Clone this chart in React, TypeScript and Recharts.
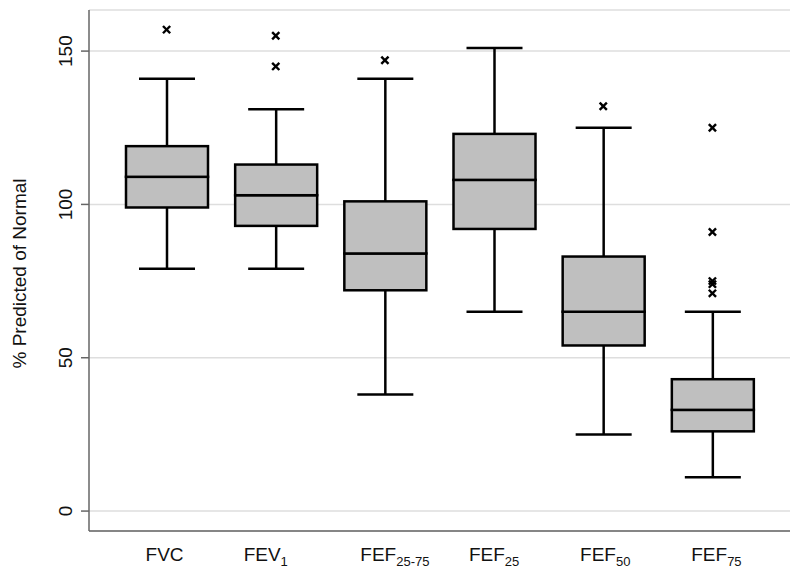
import { ComposedChart, Bar, Line, XAxis, YAxis, CartesianGrid } from "recharts";

const categories = ["FVC", "FEV1", "FEF25-75", "FEF25", "FEF50", "FEF75"];
const tickMain = ["FVC", "FEV", "FEF", "FEF", "FEF", "FEF"];
const tickSub = ["", "1", "25-75", "25", "50", "75"];

const mins = [79, 79, 38, 65, 25, 11];
const q1s = [99, 93, 72, 92, 54, 26];
const medians = [109, 103, 84, 108, 65, 33];
const q3s = [119, 113, 101, 123, 83, 43];
const maxs = [141, 131, 141, 151, 125, 65];
const outliers = [[157], [155, 145], [147], [], [132], [125, 91, 75, 74, 71]];

const yTicks = [0, 50, 100, 150];
const yDomain = [-6.5, 163.4];

const MAX_OUT = 5;

const data = categories.map((name, i) => {
  const row: Record<string, any> = {
    name,
    base: mins[i],
    lowW: q1s[i] - mins[i],
    lowBox: medians[i] - q1s[i],
    highBox: q3s[i] - medians[i],
    highW: maxs[i] - q3s[i],
  };
  for (let k = 0; k < MAX_OUT; k++) row[`out${k}`] = outliers[i][k] ?? null;
  return row;
});

const FONT = "'Liberation Sans', Arial, sans-serif";
const LINE_W = 2.5;
const CAP = 28;

// label centring as in the original figure
const LABEL_NUDGE: Record<string, number> = {
  FVC: -2,
  FEV1: -10,
  "FEF25-75": 10,
  FEF25: 0,
  FEF50: 2,
  FEF75: 4,
};

const Empty = () => <g />;

const LowWhisker = (props: any) => {
  const { x, y, width, height } = props;
  const cx = x + width / 2;
  return (
    <g stroke="#000" strokeWidth={LINE_W}>
      <line x1={cx} x2={cx} y1={y} y2={y + height} />
      <line x1={cx - CAP} x2={cx + CAP} y1={y + height} y2={y + height} />
    </g>
  );
};

const HighWhisker = (props: any) => {
  const { x, y, width, height } = props;
  const cx = x + width / 2;
  return (
    <g stroke="#000" strokeWidth={LINE_W}>
      <line x1={cx} x2={cx} y1={y} y2={y + height} />
      <line x1={cx - CAP} x2={cx + CAP} y1={y} y2={y} />
    </g>
  );
};

const BoxPart = (props: any) => {
  const { x, y, width, height } = props;
  return <rect x={x} y={y} width={width} height={height} fill="#bfbfbf" stroke="#000" strokeWidth={LINE_W} />;
};

const Cross = (props: any) => {
  const { cx, cy, value, index, dataKey } = props;
  const k = `${dataKey}-${index}`;
  if (value == null || cy == null || isNaN(cy)) return <g key={k} />;
  const s = 3.6;
  return (
    <g key={k} stroke="#000" strokeWidth={2.4}>
      <line x1={cx - s} y1={cy - s} x2={cx + s} y2={cy + s} />
      <line x1={cx - s} y1={cy + s} x2={cx + s} y2={cy - s} />
    </g>
  );
};

const YTick = (props: any) => {
  const { x, y, payload } = props;
  return (
    <text
      x={x}
      y={y}
      transform={`rotate(-90 ${x} ${y})`}
      textAnchor="middle"
      fontFamily={FONT}
      fontSize={19}
      fill="#111"
    >
      {payload.value}
    </text>
  );
};

const XTick = (props: any) => {
  const { x, y, payload } = props;
  const i = categories.indexOf(payload.value);
  const nudge = LABEL_NUDGE[payload.value] ?? 0;
  return (
    <text x={x + nudge} y={y + 30} textAnchor="middle" fontFamily={FONT} fontSize={19} fill="#111">
      <tspan>{tickMain[i]}</tspan>
      {tickSub[i] && (
        <tspan dy={5} fontSize={13}>
          {tickSub[i]}
        </tspan>
      )}
    </text>
  );
};

export default function App() {
  return (
    <div style={{ position: "absolute", left: 0, top: 0, width: 800, height: 574, background: "#fff" }}>
      <ComposedChart width={800} height={574} data={data} margin={{ top: 10, right: 10, bottom: 0, left: 0 }}>
        <CartesianGrid vertical={false} stroke="#dedede" strokeWidth={1.5} />
        <XAxis
          dataKey="name"
          height={43}
          padding={{ left: 23, right: 23 }}
          tickLine={false}
          tickSize={0}
          tickMargin={0}
          tick={<XTick />}
          axisLine={{ stroke: "#666", strokeWidth: 1.5 }}
          interval={0}
        />
        <XAxis
          xAxisId="top"
          dataKey="name"
          orientation="top"
          height={0}
          tick={false}
          tickLine={false}
          axisLine={{ stroke: "#666", strokeWidth: 1.5 }}
        />
        <YAxis
          width={89}
          domain={yDomain}
          ticks={yTicks}
          type="number"
          allowDataOverflow
          tickSize={8}
          tickMargin={9}
          tickLine={{ stroke: "#666", strokeWidth: 1.5 }}
          axisLine={{ stroke: "#666", strokeWidth: 1.5 }}
          tick={<YTick />}
          label={{
            content: (p: any) => {
              const vb = p.viewBox;
              const lx = vb.x + 26;
              const ly = vb.y + vb.height / 2 + 3;
              return (
                <text
                  x={lx}
                  y={ly}
                  transform={`rotate(-90 ${lx} ${ly})`}
                  textAnchor="middle"
                  fontFamily={FONT}
                  fontSize={19}
                  fill="#111"
                >
                  % Predicted of Normal
                </text>
              );
            },
          }}
        />
        <YAxis
          yAxisId="right"
          orientation="right"
          width={0}
          domain={yDomain}
          type="number"
          allowDataOverflow
          tick={false}
          tickLine={false}
          axisLine={{ stroke: "#666", strokeWidth: 1.5 }}
        />
        <Bar dataKey="base" stackId="box" barSize={82} shape={<Empty />} isAnimationActive={false} />
        <Bar dataKey="lowW" stackId="box" barSize={82} shape={<LowWhisker />} isAnimationActive={false} />
        <Bar dataKey="lowBox" stackId="box" barSize={82} shape={<BoxPart />} isAnimationActive={false} />
        <Bar dataKey="highBox" stackId="box" barSize={82} shape={<BoxPart />} isAnimationActive={false} />
        <Bar dataKey="highW" stackId="box" barSize={82} shape={<HighWhisker />} isAnimationActive={false} />
        {Array.from({ length: MAX_OUT }, (_, k) => (
          <Line
            key={`out${k}`}
            dataKey={`out${k}`}
            stroke="none"
            dot={Cross}
            activeDot={false}
            legendType="none"
            isAnimationActive={false}
          />
        ))}
      </ComposedChart>
    </div>
  );
}
